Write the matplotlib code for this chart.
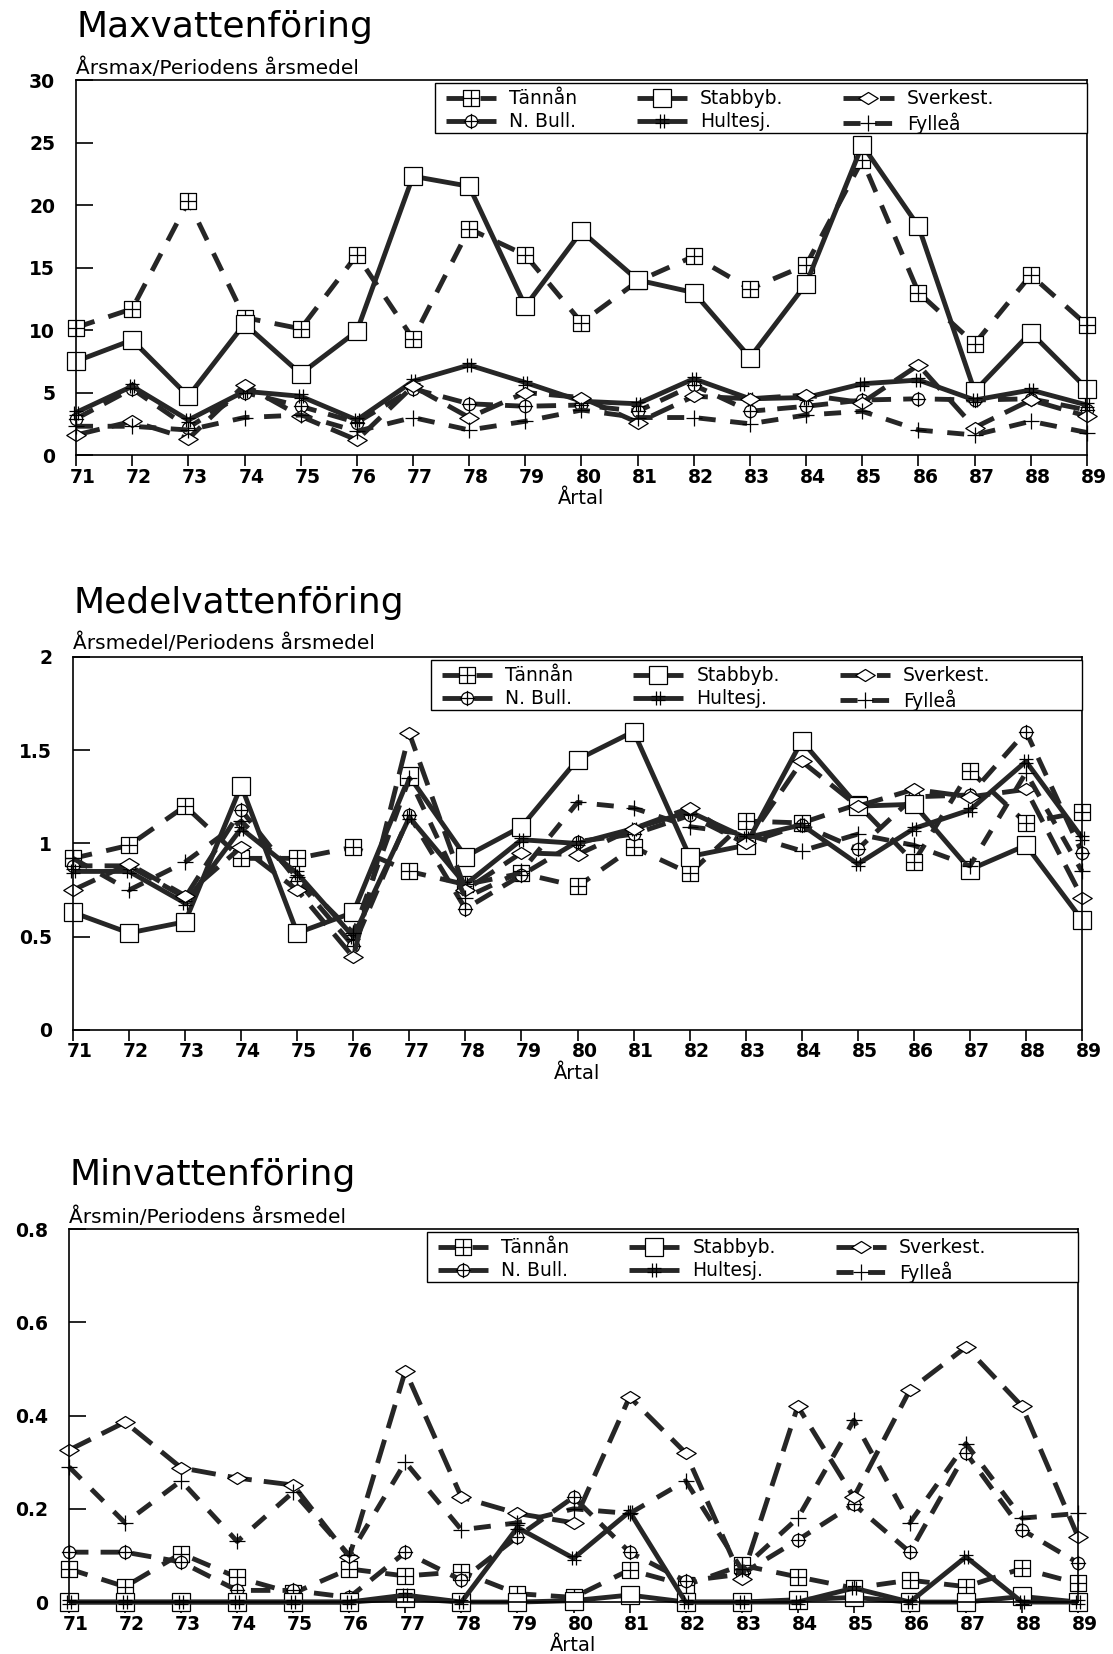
import matplotlib
matplotlib.use('Agg')
import matplotlib.pyplot as plt
from matplotlib.path import Path
from matplotlib.patches import Rectangle
from matplotlib.transforms import ScaledTranslation

# ---- data ----
years = list(range(71, 90))
xtick_labels = [str(y) for y in years]
series_names = ['Tännån', 'N. Bull.', 'Stabbyb.', 'Hultesj.', 'Sverkest.', 'Fylleå']

# Maxvattenföring  (årsmax / periodens årsmedel)
max_tannan = [10.2, 11.7, 20.3, 11.0, 10.1, 16.0, 9.3, 18.1, 16.0, 10.6, 13.9, 15.9, 13.3, 15.2, 23.6, 13.0, 8.9, 14.4, 10.4]
max_nbull = [2.9, 5.3, 2.2, 5.0, 3.9, 2.6, 5.3, 4.1, 3.9, 4.0, 3.5, 5.6, 3.5, 3.9, 4.4, 4.5, 4.4, 4.5, 3.6]
max_stabbyb = [7.5, 9.2, 4.7, 10.5, 6.5, 9.9, 22.3, 21.5, 11.9, 17.9, 14.0, 13.0, 7.8, 13.7, 24.8, 18.3, 5.1, 9.8, 5.3]
max_hultesj = [3.4, 5.5, 2.8, 5.1, 4.7, 2.8, 5.9, 7.2, 5.8, 4.3, 4.1, 6.1, 4.5, 4.6, 5.7, 6.0, 4.4, 5.2, 4.0]
max_sverkest = [1.6, 2.7, 1.3, 5.6, 3.1, 1.2, 5.5, 3.0, 5.0, 4.6, 2.6, 4.7, 4.5, 4.8, 4.2, 7.2, 2.2, 4.4, 3.1]
max_fyllea = [2.3, 2.3, 2.0, 3.0, 3.2, 1.9, 3.0, 2.0, 2.7, 3.6, 3.0, 3.0, 2.5, 3.2, 3.5, 2.0, 1.6, 2.7, 1.8]

# Medelvattenföring  (årsmedel / periodens årsmedel)
med_tannan = [0.92, 0.99, 1.20, 0.92, 0.92, 0.98, 0.85, 0.78, 0.84, 0.77, 0.98, 0.84, 1.12, 1.11, 1.21, 0.90, 1.39, 1.11, 1.17]
med_nbull = [0.88, 0.88, 0.71, 1.18, 0.80, 0.45, 1.15, 0.65, 0.83, 1.01, 1.05, 1.15, 1.00, 1.10, 0.97, 1.25, 1.26, 1.60, 0.95]
med_stabbyb = [0.63, 0.52, 0.58, 1.31, 0.52, 0.63, 1.36, 0.93, 1.09, 1.45, 1.60, 0.93, 0.99, 1.55, 1.20, 1.21, 0.86, 0.99, 0.59]
med_hultesj = [0.85, 0.85, 0.68, 1.08, 0.84, 0.50, 1.14, 0.78, 1.02, 1.00, 1.08, 1.17, 1.03, 1.10, 0.89, 1.08, 1.18, 1.44, 1.03]
med_sverkest = [0.75, 0.89, 0.72, 0.98, 0.75, 0.39, 1.59, 0.75, 0.95, 0.94, 1.08, 1.19, 1.00, 1.44, 1.20, 1.29, 1.25, 1.29, 0.71]
med_fyllea = [0.92, 0.75, 0.90, 1.12, 0.82, 0.52, 1.35, 0.71, 0.85, 1.22, 1.19, 1.09, 1.05, 0.96, 1.05, 0.99, 0.88, 1.38, 0.85]

# Minvattenföring  (årsmin / periodens årsmedel)
min_tannan = [0.071, 0.033, 0.104, 0.053, 0.019, 0.071, 0.056, 0.065, 0.018, 0.010, 0.069, 0.036, 0.079, 0.054, 0.030, 0.047, 0.033, 0.072, 0.040]
min_nbull = [0.107, 0.107, 0.086, 0.025, 0.025, 0.010, 0.107, 0.047, 0.140, 0.225, 0.107, 0.045, 0.060, 0.133, 0.210, 0.107, 0.320, 0.155, 0.084]
min_stabbyb = [0.0, 0.0, 0.0, 0.0, 0.0, 0.0, 0.008, 0.0, 0.0, 0.003, 0.015, 0.0, 0.0, 0.005, 0.010, 0.0, 0.0, 0.012, 0.0]
min_hultesj = [0.0, 0.0, 0.0, 0.0, 0.0, 0.0, 0.015, 0.0, 0.160, 0.094, 0.194, 0.0, 0.0, 0.0, 0.030, 0.0, 0.097, 0.0, 0.0]
min_sverkest = [0.326, 0.386, 0.288, 0.266, 0.251, 0.097, 0.496, 0.225, 0.190, 0.170, 0.440, 0.320, 0.050, 0.420, 0.225, 0.455, 0.547, 0.420, 0.140]
min_fyllea = [0.290, 0.170, 0.260, 0.130, 0.236, 0.100, 0.300, 0.155, 0.170, 0.200, 0.190, 0.260, 0.070, 0.180, 0.390, 0.170, 0.340, 0.180, 0.190]

max_yticks = [0, 5, 10, 15, 20, 25, 30]
max_ylabels = ['0', '5', '10', '15', '20', '25', '30']
med_yticks = [0, 0.5, 1, 1.5, 2]
med_ylabels = ['0', '0.5', '1', '1.5', '2']
min_yticks = [0, 0.2, 0.4, 0.6, 0.8]
min_ylabels = ['0', '0.2', '0.4', '0.6', '0.8']

# ---- markers (plotter symbols) ----
M, L, C = Path.MOVETO, Path.LINETO, Path.CLOSEPOLY
sq_plus = Path([(-1, -1), (1, -1), (1, 1), (-1, 1), (-1, -1), (-1, 0), (1, 0), (0, -1), (0, 1)],
               [M, L, L, L, C, M, L, M, L])
cross = Path([(-1.25, 0), (1.25, 0), (0, -1.25), (0, 1.25)], [M, L, M, L])
circ_plus = Path.make_compound_path(Path.unit_circle(), cross)
hash_m = Path([(-0.35, -1), (-0.35, 1), (0.35, -1), (0.35, 1), (-1, -0.3), (1, -0.3), (-1, 0.3), (1, 0.3)],
              [M, L] * 4)
flat_diamond = Path([(-1, 0), (0, 0.62), (1, 0), (0, -0.62), (-1, 0)], [M, L, L, L, C])

ink = '#262626'
styles = [
    dict(ls=(0, (4, 3)), marker=sq_plus, ms=11.5, mfc='white'),
    dict(ls=(0, (4, 2.5)), marker=circ_plus, ms=11, mfc='white'),
    dict(ls='-', marker='s', ms=13, mfc='white'),
    dict(ls='-', marker=hash_m, ms=10, mfc='none'),
    dict(ls=(0, (5, 2.5)), marker=flat_diamond, ms=14, mfc='white'),
    dict(ls=(0, (3.5, 3)), marker='+', ms=12, mfc='none'),
]

panels = [
    dict(title='Maxvattenföring', sub='Årsmax/Periodens årsmedel',
         data=[max_tannan, max_nbull, max_stabbyb, max_hultesj, max_sverkest, max_fyllea],
         yt=max_yticks, yl=max_ylabels, rect=[0.0683, 0.7249, 0.9083, 0.2267],
         ty=0.9837, sy=0.9589),
    dict(title='Medelvattenföring', sub='Årsmedel/Periodens årsmedel',
         data=[med_tannan, med_nbull, med_stabbyb, med_hultesj, med_sverkest, med_fyllea],
         yt=med_yticks, yl=med_ylabels, rect=[0.0656, 0.3773, 0.9066, 0.2255],
         ty=0.6354, sy=0.6112),
    dict(title='Minvattenföring', sub='Årsmin/Periodens årsmedel',
         data=[min_tannan, min_nbull, min_stabbyb, min_hultesj, min_sverkest, min_fyllea],
         yt=min_yticks, yl=min_ylabels, rect=[0.0620, 0.0314, 0.9066, 0.2255],
         ty=0.2896, sy=0.2642),
]

fig = plt.figure(figsize=(11.13, 16.54), dpi=100)
shift = ScaledTranslation(5 / 72, 0, fig.dpi_scale_trans)

for p in panels:
    ax = fig.add_axes(p['rect'])
    for name, vals, st in zip(series_names, p['data'], styles):
        ax.plot(years, vals, color=ink, lw=3.5, ls=st['ls'], marker=st['marker'],
                ms=st['ms'], mfc=st['mfc'], mec='black', mew=0.9,
                label=name, clip_on=False, solid_capstyle='butt', dash_capstyle='butt')
    ax.set_xlim(71, 89)
    ax.set_ylim(p['yt'][0], p['yt'][-1])
    ax.set_xticks(years, xtick_labels)
    ax.set_yticks(p['yt'], p['yl'])
    for s in ax.spines.values():
        s.set_linewidth(1.2)
    ax.tick_params(axis='x', direction='out', length=8, width=1.2, pad=1,
                   labelsize=13.5)
    ax.tick_params(axis='y', direction='in', length=12, width=1.2, pad=15,
                   labelsize=13.5)
    for lab in ax.get_xticklabels() + ax.get_yticklabels():
        lab.set_fontweight('bold')
    for lab in ax.get_xticklabels():
        lab.set_transform(lab.get_transform() + shift)
    ax.set_xlabel('Årtal', fontsize=14, labelpad=2)

    # legend box spanning to the right edge, columns packed to the left
    ax.add_patch(Rectangle((0.355, 0.858), 0.645, 0.134, transform=ax.transAxes,
                           fc='white', ec='black', lw=1.0, zorder=4.5, clip_on=False))
    ax.legend(ncol=3, loc='upper left', bbox_to_anchor=(0.36, 0.99),
              borderaxespad=0, fontsize=13.5, handlelength=2.67, handletextpad=0.7,
              columnspacing=3.2, numpoints=1, labelspacing=0.2, borderpad=0.3,
              frameon=False)

    fig.text(p['rect'][0], p['ty'], p['title'], fontsize=26, va='center', ha='left')
    fig.text(p['rect'][0], p['sy'], p['sub'], fontsize=14.5, va='center', ha='left')

fig.savefig('out.png', dpi=100)
